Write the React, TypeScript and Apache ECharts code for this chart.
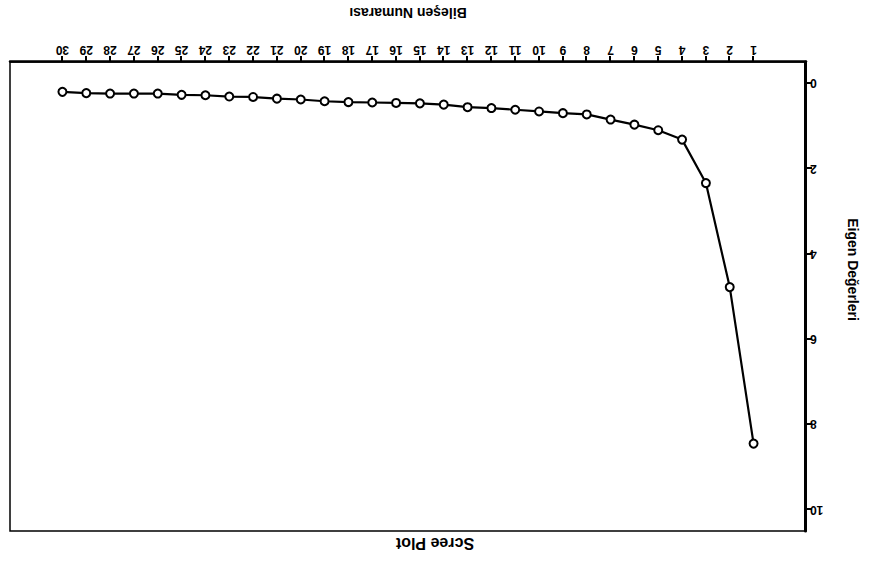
import React, { useEffect, useRef } from "react";
import * as echarts from "echarts";

const components = [
  1, 2, 3, 4, 5, 6, 7, 8, 9, 10, 11, 12, 13, 14, 15, 16, 17, 18, 19, 20, 21, 22,
  23, 24, 25, 26, 27, 28, 29, 30,
];
const eigenValues = [
  8.45, 4.78, 2.34, 1.32, 1.1, 0.97, 0.85, 0.73, 0.7, 0.66, 0.62, 0.58, 0.56,
  0.5, 0.47, 0.46, 0.45, 0.44, 0.42, 0.38, 0.36, 0.32, 0.31, 0.28, 0.27, 0.24,
  0.24, 0.24, 0.23, 0.2,
];
const yTicks = [0, 2, 4, 6, 8, 10];
const titleText = "Scree Plot";
const xName = "Bileşen Numarası";
const yName = "Eigen Değerleri";

export default function App() {
  const ref = useRef<HTMLDivElement>(null);
  useEffect(() => {
    if (!ref.current) return;
    const chart = echarts.init(ref.current, null, { renderer: "svg" });
    const font = "Liberation Sans, Arial, sans-serif";
    chart.setOption({
      animation: false,
      backgroundColor: "#ffffff",
      title: {
        text: titleText,
        left: 430,
        textAlign: "center",
        top: 7,
        textStyle: { fontFamily: font, fontSize: 16, fontWeight: "bold", color: "#000" },
      },
      grid: {
        left: 64,
        right: 10,
        top: 32,
        bottom: 62,
        show: true,
        borderColor: "#000",
        borderWidth: 1.5,
        backgroundColor: "transparent",
      },
      xAxis: {
        type: "value",
        min: -1.2,
        max: 32.2,
        position: "bottom",
        name: xName,
        nameLocation: "middle",
        nameGap: 42,
        nameTextStyle: { fontFamily: font, fontSize: 14, fontWeight: "bold", color: "#000" },
        axisLine: { show: true, onZero: false, lineStyle: { color: "#000", width: 2.5 } },
        axisTick: { show: true, customValues: components, length: 6, lineStyle: { color: "#000", width: 2 } },
        axisLabel: {
          customValues: components,
          fontFamily: font,
          fontSize: 12,
          fontWeight: "bold",
          color: "#000",
          margin: 6,
        },
        splitLine: { show: false },
      },
      yAxis: {
        type: "value",
        min: -0.5,
        max: 10.5,
        name: yName,
        nameLocation: "middle",
        nameGap: 40,
        nameTextStyle: {
          fontFamily: font,
          fontSize: 14,
          fontWeight: "bold",
          color: "#000",
          padding: [0, 54, 0, 0],
        },
        axisLine: { show: true, onZero: false, lineStyle: { color: "#000", width: 3 } },
        axisTick: { show: true, customValues: yTicks, length: 6, lineStyle: { color: "#000", width: 2 } },
        axisLabel: {
          customValues: yTicks,
          fontFamily: font,
          fontSize: 12,
          fontWeight: "bold",
          color: "#000",
          margin: 4,
        },
        splitLine: { show: false },
      },
      series: [
        {
          type: "line",
          data: components.map((c, i) => [c, eigenValues[i]]),
          symbol: "circle",
          symbolSize: 8,
          lineStyle: { color: "#000", width: 2.2 },
          itemStyle: { color: "#fff", borderColor: "#000", borderWidth: 2 },
        },
      ],
    });
    return () => chart.dispose();
  }, []);
  return (
    <div
      ref={ref}
      style={{
        position: "absolute",
        left: 0,
        top: 0,
        width: 870,
        height: 563,
        transform: "rotate(180deg)",
      }}
    />
  );
}
